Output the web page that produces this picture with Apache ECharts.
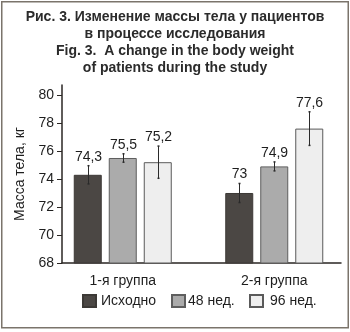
<!DOCTYPE html>
<html>
<head>
<meta charset="utf-8">
<script src="https://cdn.jsdelivr.net/npm/echarts@6/dist/echarts.min.js"></script>
<style>
  html, body { margin: 0; padding: 0; background: #ffffff; }
  #chart { width: 350px; height: 332px; }
</style>
</head>
<body>
<div id="chart"></div>
<script>
// Body weight, kg: mean and spread per group and visit
const categories = ['1-я группа', '2-я группа'];
const seriesNames = ['Исходно', '48 нед.', '96 нед.'];
const baseline = [74.3, 73];
const week48 = [75.5, 74.9];
const week96 = [75.2, 77.6];
const baselineErr = [0.65, 0.68];
const week48Err = [0.3, 0.32];
const week96Err = [1.15, 1.2];
const yTicks = [68, 70, 72, 74, 76, 78, 80];

const means = [baseline, week48, week96];
const errs = [baselineErr, week48Err, week96Err];
const fills = ['#4b4744', '#ababab', '#eeeeee'];
const borders = ['#3c3936', '#5e5e5e', '#5a5a5a'];

const FONT = '"Liberation Sans", Arial, sans-serif';
const BAR_W = 28;
const BAR_STEP = 35;   // bar width + gap between bars in a group
const Y_MIN = 68;
const Y_MAX = 80.714;  // axis line runs a little past the last tick

const chart = echarts.init(document.getElementById('chart'), null, { renderer: 'canvas' });

const barSeries = seriesNames.map((name, i) => ({
  name: name,
  type: 'bar',
  xAxisIndex: 0,
  yAxisIndex: 0,
  barWidth: BAR_W,
  barGap: '25%',
  data: means[i],
  itemStyle: { color: fills[i], borderColor: borders[i], borderWidth: 1 },
  emphasis: { disabled: true },
  silent: true
}));

// Error whiskers plus the value label sitting above each whisker
const errSeries = seriesNames.map((name, i) => ({
  type: 'custom',
  xAxisIndex: 0,
  yAxisIndex: 0,
  silent: true,
  z: 5,
  data: categories.map((c, k) => [k, means[i][k], errs[i][k]]),
  renderItem: function (params, api) {
    const k = api.value(0), m = api.value(1), e = api.value(2);
    const top = api.coord([k, m + e]);
    const bot = api.coord([k, m - e]);
    const x = Math.round(top[0] + (i - 1) * BAR_STEP) + 0.5;
    return {
      type: 'group',
      children: [
        { type: 'line', shape: { x1: x, y1: top[1], x2: x, y2: bot[1] },
          style: { stroke: '#2a2a2a', lineWidth: 1 } },
        { type: 'line', shape: { x1: x - 1, y1: top[1], x2: x + 1, y2: top[1] },
          style: { stroke: '#2a2a2a', lineWidth: 1.5 } },
        { type: 'line', shape: { x1: x - 1, y1: bot[1], x2: x + 1, y2: bot[1] },
          style: { stroke: '#2a2a2a', lineWidth: 1.5 } },
        { type: 'text', x: x, y: top[1] - 2,
          style: { text: String(m).replace('.', ','), font: '14px ' + FONT,
                   fill: '#1e1e1e', align: 'center', verticalAlign: 'bottom' } }
      ]
    };
  }
}));

// One legend block per series so each entry sits at its own spot
const legendLeft = [82, 171, 249];
const legendTextPad = [0, -2, 2];
const legends = seriesNames.map((name, i) => ({
  data: [name],
  left: legendLeft[i],
  top: 294,
  padding: 0,
  itemWidth: 13,
  itemHeight: 12,
  icon: 'rect',
  textStyle: { fontFamily: FONT, fontSize: 14, color: '#1e1e1e', padding: [0, 0, 0, legendTextPad[i]] }
}));

const option = {
  animation: false,
  backgroundColor: '#ffffff',
  title: {
    text: 'Рис. 3. Изменение массы тела у пациентов\nв процессе исследования\nFig. 3.  A change in the body weight\nof patients during the study',
    left: 175,
    top: 9,
    textAlign: 'center',
    padding: 0,
    textStyle: { fontFamily: FONT, fontWeight: 'bold', fontSize: 14, lineHeight: 17, color: '#2b2b2b' }
  },
  legend: legends,
  grid: [
    // band layout for the two groups of bars
    { left: 47, width: 311, top: 85, bottom: 69, containLabel: false },
    // visible frame axes
    { left: 62, right: 9, top: 85, bottom: 69, containLabel: false }
  ],
  xAxis: [
    {
      gridIndex: 0, type: 'category', data: categories,
      axisLine: { show: false }, axisTick: { show: false },
      axisLabel: { margin: 11, fontFamily: FONT, fontSize: 14, color: '#1e1e1e' }
    },
    {
      gridIndex: 1, type: 'value', min: 0, max: 1,
      axisLine: { show: true, lineStyle: { color: '#2a2623', width: 1.5 } },
      axisTick: { show: false }, axisLabel: { show: false }, splitLine: { show: false }
    }
  ],
  yAxis: [
    {
      gridIndex: 0, type: 'value', min: Y_MIN, max: Y_MAX, show: false, splitLine: { show: false }
    },
    {
      gridIndex: 1, type: 'value', min: Y_MIN, max: Y_MAX,
      name: 'Масса тела, кг', nameLocation: 'middle', nameGap: 31,
      nameTextStyle: { fontFamily: FONT, fontSize: 14, color: '#1e1e1e' },
      axisLine: { show: true, lineStyle: { color: '#2a2623', width: 1.5 } },
      axisTick: { show: true, length: 5, customValues: yTicks, lineStyle: { color: '#2a2623' } },
      axisLabel: { customValues: yTicks, margin: 8, fontFamily: FONT, fontSize: 14, color: '#1e1e1e' },
      splitLine: { show: false }
    }
  ],
  graphic: [
    {
      type: 'rect', silent: true, z: 100,
      shape: { x: 1.75, y: 1.75, width: 346.5, height: 326 },
      style: { fill: null, stroke: '#7b746b', lineWidth: 1.5 }
    }
  ],
  series: barSeries.concat(errSeries)
};

chart.setOption(option);
</script>
</body>
</html>
